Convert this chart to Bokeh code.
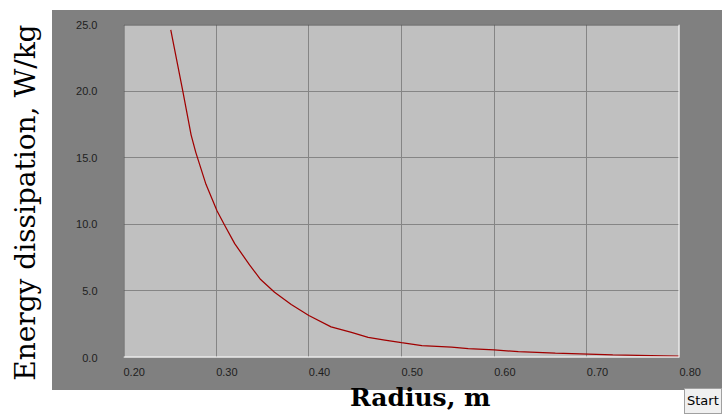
from bokeh.plotting import figure
from bokeh.layouts import column
from bokeh.models import FixedTicker, NumeralTickFormatter, LinearAxis, Span, Range1d, Div
from bokeh.embed import file_html
from bokeh.resources import INLINE

# ---- data ----
radius = [0.251, 0.264, 0.273, 0.278, 0.289, 0.301, 0.309, 0.320, 0.336, 0.348,
          0.363, 0.381, 0.400, 0.424, 0.446, 0.464, 0.482, 0.500, 0.522, 0.554,
          0.572, 0.600, 0.626, 0.666, 0.728, 0.783, 0.800]
energy = [24.6, 20.0, 16.7, 15.4, 13.0, 11.0, 9.95, 8.55, 6.95, 5.85,
          4.90, 3.98, 3.15, 2.30, 1.88, 1.51, 1.31, 1.11, 0.89, 0.77,
          0.67, 0.57, 0.44, 0.32, 0.20, 0.13, 0.10]
x_ticks = [0.2, 0.3, 0.4, 0.5, 0.6, 0.7, 0.8]
y_ticks = [0, 5, 10, 15, 20, 25]
x_title = "Radius, m"
y_title = "Energy dissipation, W/kg"
button_text = "Start"

W, H = 722, 414
p = figure(width=W, height=H, x_range=Range1d(0.2, 0.8), y_range=Range1d(0, 25),
           output_backend="svg", toolbar_location=None,
           min_border_left=123, min_border_right=43, min_border_top=24, min_border_bottom=52)
p.background_fill_color = "#c0c0c0"
p.border_fill_alpha = 0.0
p.outline_line_color = None
# grey window panel behind the plot, white elsewhere
p.styles = {"background": "linear-gradient(#808080, #808080) 52px 10px / 670px 380px no-repeat, #ffffff"}

xa = p.xaxis[0]
ya = p.yaxis[0]
xa.ticker = FixedTicker(ticks=x_ticks)
ya.ticker = FixedTicker(ticks=y_ticks)
ya.formatter = NumeralTickFormatter(format="0.0")
# x labels start at their grid line (left aligned look)
pad = "\u2007\u2007\u2007\u2008"
xa.major_label_overrides = {t: pad + f"{t:.2f}" for t in x_ticks}
for ax in (xa, ya):
    ax.axis_line_color = None
    ax.major_tick_line_color = None
    ax.minor_tick_line_color = None
    ax.major_tick_out = 0
    ax.major_tick_in = 0
    ax.minor_tick_out = 0
    ax.major_label_text_font = "Liberation Sans"
    ax.major_label_text_font_size = "11px"
    ax.major_label_text_color = "#1e1e1e"
xa.major_label_standoff = 8
ya.major_label_standoff = 26

# title axes (spaces only shift the centred titles to their place)
ytitle_axis = LinearAxis(ticker=FixedTicker(ticks=[]), axis_label=y_title + "\u2002\u2004",
                         axis_line_color=None, major_tick_line_color=None, minor_tick_line_color=None,
                         major_tick_out=0, major_tick_in=0, minor_tick_out=0, major_label_standoff=0,
                         axis_label_standoff=32, axis_label_text_font="DejaVu Serif",
                         axis_label_text_font_style="normal", axis_label_text_font_size="28px",
                         axis_label_text_color="black")
p.add_layout(ytitle_axis, "left")
xtitle_axis = LinearAxis(ticker=FixedTicker(ticks=[]), axis_label="\u2003\u2002" + x_title,
                         axis_line_color=None, major_tick_line_color=None, minor_tick_line_color=None,
                         major_tick_out=0, major_tick_in=0, minor_tick_out=0, major_label_standoff=0,
                         axis_label_standoff=2, axis_label_text_font="DejaVu Serif",
                         axis_label_text_font_style="bold", axis_label_text_font_size="25px",
                         axis_label_text_color="black")
p.add_layout(xtitle_axis, "below")

p.xgrid.grid_line_color = "#858585"
p.ygrid.grid_line_color = "#858585"

p.line(radius, energy, line_color="#a00000", line_width=1.25)

# sunken frame edges
p.add_layout(Span(location=25, dimension="width", line_color="#555555", line_width=2))
p.add_layout(Span(location=0.2, dimension="height", line_color="#5a5a5a", line_width=2))
p.add_layout(Span(location=0, dimension="width", line_color="white", line_width=2))
p.add_layout(Span(location=0.8, dimension="height", line_color="white", line_width=2))

start = Div(text=button_text, width=38, height=26, margin=0,
            styles={"position": "absolute", "left": "684px", "top": "388px",
                    "background-color": "#f0f0f0", "border": "1px solid #a0a0a0",
                    "box-sizing": "border-box", "padding": "4px 2px",
                    "font-family": "DejaVu Sans", "font-size": "13px", "color": "black",
                    "line-height": "16px", "overflow": "hidden"})

layout = column(p, start)
open("out.html", "w").write(file_html(layout, INLINE))
